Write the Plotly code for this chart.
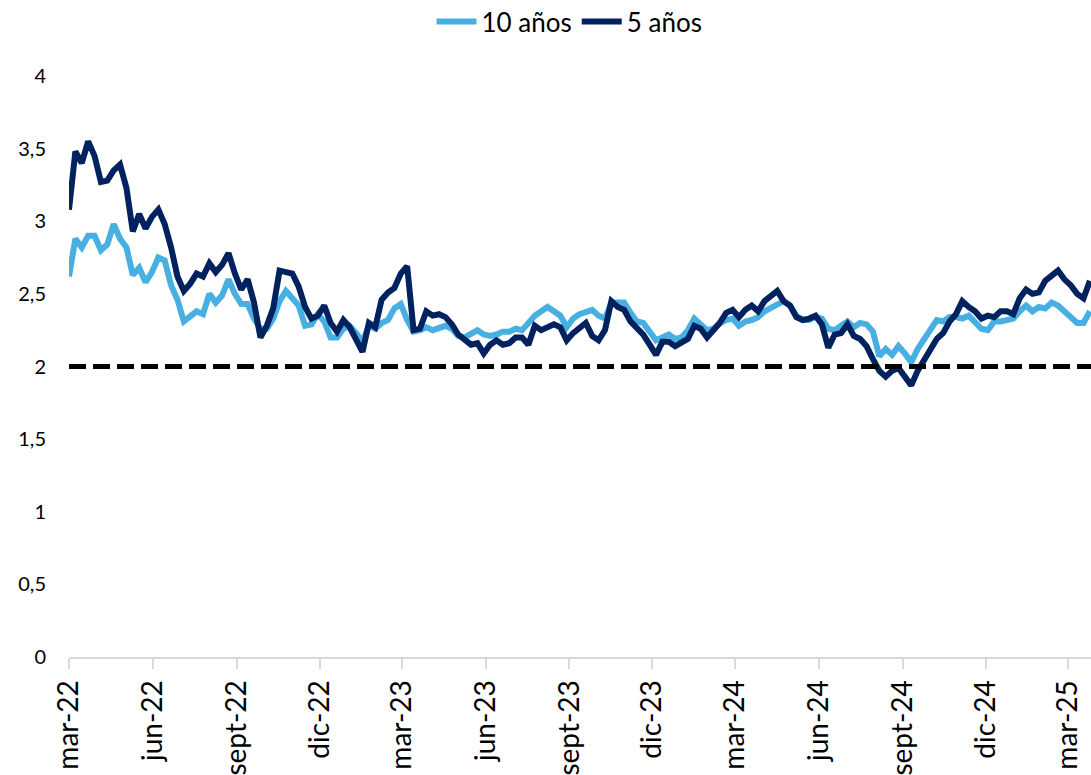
import pandas as pd
import plotly.graph_objects as go

# ---- data (weekly samples) ----
start_date = "2022-03-01"
n_weeks = 161
dates = pd.date_range(start_date, periods=n_weeks, freq="7D")

y5 = [3.08, 3.48, 3.40, 3.55, 3.45, 3.27, 3.28, 3.35, 3.39, 3.23,
      2.93, 3.05, 2.95, 3.03, 3.08, 2.98, 2.82, 2.62, 2.52, 2.57,
      2.64, 2.62, 2.71, 2.65, 2.70, 2.78, 2.64, 2.53, 2.60, 2.44,
      2.20, 2.28, 2.40, 2.66, 2.65, 2.64, 2.55, 2.41, 2.33, 2.35,
      2.42, 2.30, 2.24, 2.32, 2.27, 2.19, 2.10, 2.30, 2.27, 2.46,
      2.51, 2.54, 2.64, 2.69, 2.25, 2.26, 2.38, 2.35, 2.36, 2.34,
      2.29, 2.22, 2.18, 2.15, 2.16, 2.09, 2.15, 2.18, 2.15, 2.16,
      2.20, 2.20, 2.15, 2.28, 2.25, 2.27, 2.29, 2.27, 2.18, 2.23,
      2.27, 2.30, 2.21, 2.18, 2.25, 2.45, 2.41, 2.39, 2.31, 2.26,
      2.22, 2.15, 2.08, 2.17, 2.17, 2.14, 2.16, 2.19, 2.28, 2.26,
      2.20, 2.25, 2.30, 2.37, 2.39, 2.34, 2.39, 2.42, 2.38, 2.45,
      2.48, 2.52, 2.45, 2.42, 2.34, 2.32, 2.33, 2.35, 2.29, 2.13,
      2.22, 2.23, 2.29, 2.21, 2.19, 2.14, 2.05, 1.97, 1.93, 1.97,
      1.99, 1.93, 1.87, 1.97, 2.05, 2.12, 2.19, 2.23, 2.31, 2.36,
      2.45, 2.41, 2.38, 2.33, 2.35, 2.34, 2.38, 2.38, 2.36, 2.47,
      2.53, 2.50, 2.51, 2.59, 2.63, 2.66, 2.60, 2.56, 2.50, 2.47,
      2.59]

y10 = [2.62, 2.88, 2.82, 2.90, 2.90, 2.80, 2.84, 2.98, 2.88, 2.82,
       2.63, 2.68, 2.58, 2.65, 2.75, 2.73, 2.56, 2.46, 2.31, 2.34,
       2.38, 2.36, 2.50, 2.44, 2.49, 2.60, 2.50, 2.43, 2.43, 2.33,
       2.26, 2.26, 2.33, 2.45, 2.52, 2.47, 2.42, 2.28, 2.29, 2.36,
       2.31, 2.20, 2.20, 2.26, 2.28, 2.23, 2.17, 2.28, 2.26, 2.30,
       2.32, 2.40, 2.43, 2.32, 2.24, 2.25, 2.27, 2.25, 2.27, 2.28,
       2.26, 2.21, 2.20, 2.23, 2.25, 2.22, 2.21, 2.22, 2.24, 2.24,
       2.26, 2.25, 2.30, 2.35, 2.38, 2.41, 2.38, 2.35, 2.27, 2.33,
       2.36, 2.37, 2.39, 2.35, 2.33, 2.44, 2.44, 2.44, 2.37, 2.31,
       2.30, 2.24, 2.18, 2.20, 2.22, 2.19, 2.20, 2.25, 2.33, 2.29,
       2.25, 2.26, 2.30, 2.32, 2.33, 2.28, 2.31, 2.32, 2.34, 2.38,
       2.40, 2.43, 2.45, 2.42, 2.35, 2.32, 2.32, 2.34, 2.33, 2.26,
       2.25, 2.28, 2.31, 2.27, 2.30, 2.29, 2.24, 2.07, 2.12, 2.08,
       2.14, 2.09, 2.03, 2.12, 2.19, 2.25, 2.32, 2.31, 2.34, 2.34,
       2.33, 2.35, 2.31, 2.26, 2.25, 2.31, 2.31, 2.32, 2.33, 2.38,
       2.42, 2.38, 2.41, 2.40, 2.44, 2.42, 2.38, 2.34, 2.30, 2.30,
       2.38]

target = 2.0

x_tick_dates = ["2022-03-01", "2022-06-01", "2022-09-01", "2022-12-01",
                "2023-03-01", "2023-06-01", "2023-09-01", "2023-12-01",
                "2024-03-01", "2024-06-01", "2024-09-01", "2024-12-01",
                "2025-03-01"]
x_tick_labels = ["mar-22", "jun-22", "sept-22", "dic-22",
                 "mar-23", "jun-23", "sept-23", "dic-23",
                 "mar-24", "jun-24", "sept-24", "dic-24",
                 "mar-25"]
y_tick_vals = [0, 0.5, 1, 1.5, 2, 2.5, 3, 3.5, 4]
y_tick_labels = ["0", "0,5", "1", "1,5", "2", "2,5", "3", "3,5", "4"]

# ---- styling ----
LIGHT = "#47AFE2"
DARK = "#02215F"
FONT = "Lato"

fig = go.Figure()
fig.add_trace(go.Scatter(x=dates, y=y10, name="10 años", mode="lines",
                         line=dict(color=LIGHT, width=6)))
fig.add_trace(go.Scatter(x=dates, y=y5, name="5 años", mode="lines",
                         line=dict(color=DARK, width=6)))
fig.add_hline(y=target, line=dict(color="black", width=5, dash="17px,7px"),
              layer="above")

fig.update_layout(
    width=1091, height=775,
    margin=dict(l=69, r=0, t=76, b=118),
    paper_bgcolor="white", plot_bgcolor="white",
    font=dict(family=FONT, color="black", size=20),
    showlegend=True,
    legend=dict(orientation="h", xref="container", yref="container",
                x=0.522, xanchor="center", y=0.972, yanchor="middle",
                font=dict(size=26, family=FONT), itemwidth=40,
                traceorder="normal", bgcolor="rgba(0,0,0,0)"),
    xaxis=dict(type="date", range=["2022-03-01", "2025-03-26 05:00"],
               tickvals=x_tick_dates, ticktext=x_tick_labels,
               tickangle=-90, tickfont=dict(size=28, family=FONT),
               showline=True, linecolor="#D9D9D9", linewidth=2,
               ticks="outside", ticklen=10, tickwidth=2, tickcolor="#D9D9D9",
               showgrid=False, zeroline=False, automargin=False),
    yaxis=dict(range=[0, 4], tickvals=y_tick_vals, ticktext=y_tick_labels,
               tickfont=dict(size=20, family=FONT),
               showline=False, showgrid=False, zeroline=False,
               ticks="", ticklabelstandoff=22, automargin=False),
)

fig.write_html("out.html",
               config={"displayModeBar": False},
               post_script="document.body.style.margin='0px';")
